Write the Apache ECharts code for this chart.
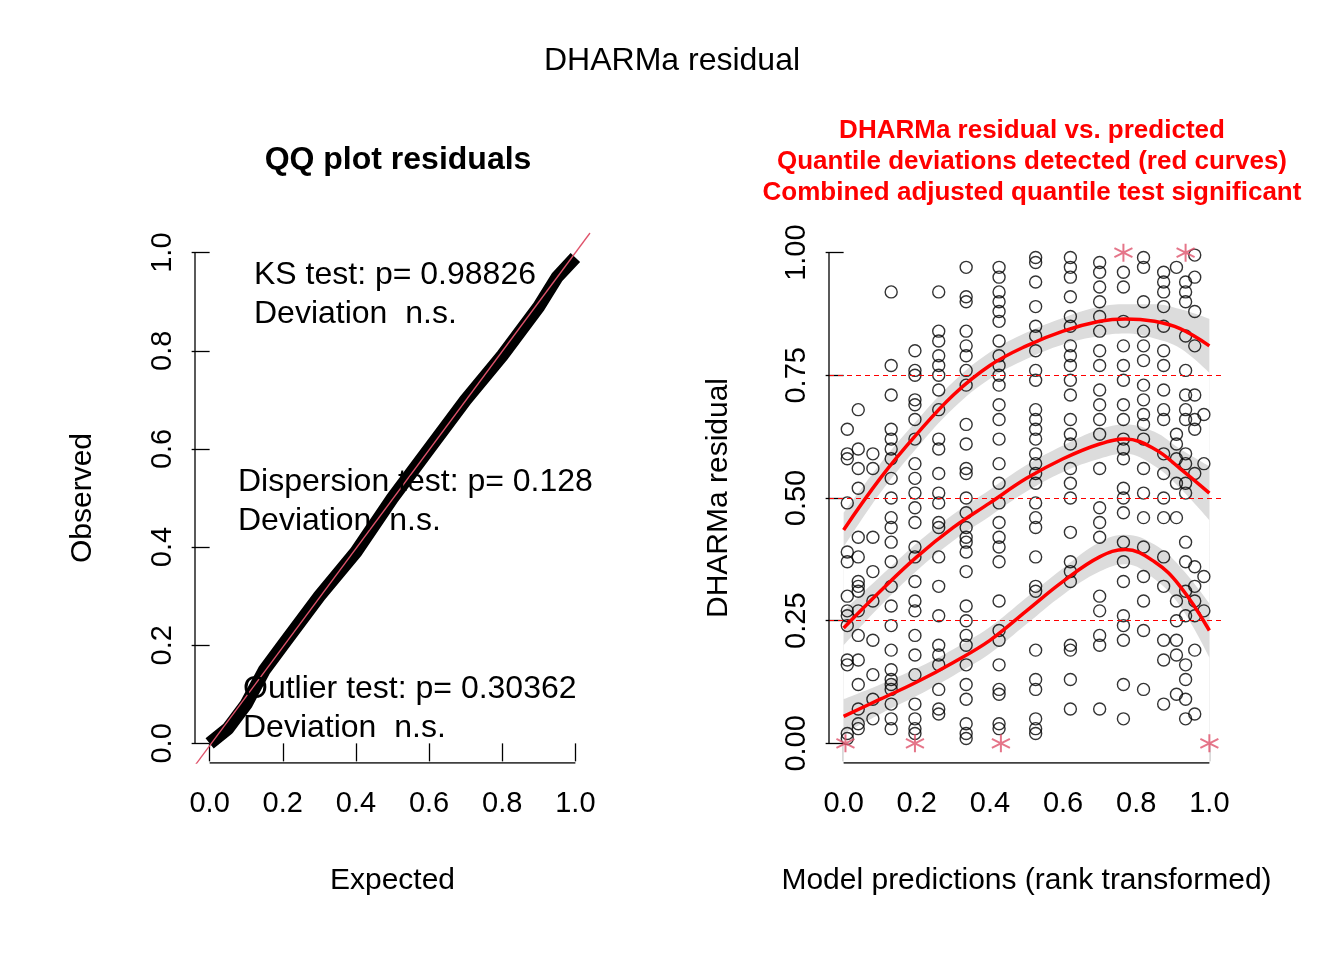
<!DOCTYPE html>
<html><head><meta charset="utf-8">
<script src="https://cdn.jsdelivr.net/npm/echarts@6/dist/echarts.min.js"></script>
<style>html,body{margin:0;background:#fff}#c{width:1344px;height:960px}</style>
</head><body><div id="c"></div>
<script>
// QQ plot: expected vs observed (overplotted points)
const qqExpected = [0, 0.05, 0.1, 0.15, 0.2, 0.3, 0.4, 0.5, 0.6, 0.7, 0.8, 0.9, 0.95, 1.0];
const qqObserved = [0, 0.03, 0.08, 0.15, 0.2, 0.3, 0.39, 0.5, 0.6, 0.7, 0.79, 0.89, 0.95, 0.99];

// residual vs predicted: column x positions and residual values per column
const colX = [0.01, 0.04, 0.08, 0.13, 0.195, 0.26, 0.335, 0.425, 0.525, 0.62, 0.70, 0.765, 0.82, 0.875, 0.91, 0.935, 0.96, 0.985];
const colY = [
  [0.64, 0.58, 0.59, 0.39, 0.37, 0.30, 0.27, 0.24, 0.17, 0.16, 0.02, 0.01, 0.26, 0.49],
  [0.68, 0.60, 0.52, 0.56, 0.32, 0.31, 0.27, 0.22, 0.17, 0.12, 0.07, 0.04, 0.03, 0.42, 0.38, 0.33],
  [0.59, 0.56, 0.42, 0.35, 0.29, 0.21, 0.14, 0.09, 0.05],
  [0.92, 0.77, 0.71, 0.64, 0.62, 0.60, 0.58, 0.54, 0.50, 0.46, 0.44, 0.41, 0.37, 0.32, 0.28, 0.24, 0.19, 0.15, 0.13, 0.12, 0.11, 0.08, 0.05, 0.03],
  [0.80, 0.76, 0.75, 0.70, 0.69, 0.66, 0.62, 0.57, 0.54, 0.51, 0.48, 0.45, 0.40, 0.38, 0.33, 0.29, 0.27, 0.22, 0.18, 0.14, 0.08, 0.05, 0.03, 0.02],
  [0.92, 0.84, 0.82, 0.79, 0.77, 0.75, 0.72, 0.68, 0.62, 0.60, 0.55, 0.51, 0.49, 0.45, 0.44, 0.38, 0.32, 0.26, 0.20, 0.18, 0.16, 0.11, 0.07, 0.06],
  [0.97, 0.91, 0.90, 0.84, 0.81, 0.79, 0.76, 0.73, 0.65, 0.61, 0.56, 0.55, 0.50, 0.47, 0.44, 0.42, 0.41, 0.39, 0.35, 0.28, 0.25, 0.22, 0.20, 0.16, 0.12, 0.09, 0.04, 0.02, 0.01],
  [0.97, 0.95, 0.92, 0.90, 0.88, 0.86, 0.82, 0.79, 0.77, 0.75, 0.73, 0.69, 0.66, 0.62, 0.57, 0.53, 0.49, 0.45, 0.42, 0.40, 0.37, 0.29, 0.23, 0.21, 0.16, 0.11, 0.10, 0.04, 0.03],
  [0.99, 0.98, 0.94, 0.89, 0.85, 0.83, 0.80, 0.76, 0.74, 0.68, 0.66, 0.64, 0.62, 0.59, 0.57, 0.55, 0.53, 0.49, 0.46, 0.44, 0.38, 0.32, 0.31, 0.19, 0.13, 0.11, 0.05, 0.03, 0.02],
  [0.99, 0.97, 0.95, 0.91, 0.87, 0.85, 0.81, 0.79, 0.77, 0.74, 0.71, 0.66, 0.63, 0.61, 0.56, 0.53, 0.50, 0.43, 0.37, 0.35, 0.33, 0.20, 0.19, 0.13, 0.07],
  [0.98, 0.96, 0.93, 0.90, 0.87, 0.84, 0.80, 0.77, 0.72, 0.69, 0.66, 0.63, 0.56, 0.48, 0.45, 0.42, 0.30, 0.27, 0.22, 0.20, 0.07],
  [0.96, 0.93, 0.86, 0.81, 0.77, 0.74, 0.69, 0.66, 0.62, 0.60, 0.58, 0.52, 0.50, 0.47, 0.41, 0.37, 0.33, 0.26, 0.24, 0.21, 0.12, 0.05],
  [0.99, 0.97, 0.90, 0.84, 0.81, 0.78, 0.73, 0.70, 0.67, 0.65, 0.62, 0.56, 0.51, 0.46, 0.40, 0.34, 0.29, 0.23, 0.11],
  [0.96, 0.94, 0.92, 0.89, 0.85, 0.80, 0.77, 0.72, 0.68, 0.66, 0.59, 0.55, 0.50, 0.46, 0.38, 0.32, 0.21, 0.17, 0.08],
  [0.97, 0.63, 0.61, 0.58, 0.53, 0.46, 0.29, 0.25, 0.21, 0.18, 0.10],
  [0.94, 0.92, 0.90, 0.83, 0.76, 0.71, 0.68, 0.66, 0.59, 0.57, 0.53, 0.51, 0.41, 0.37, 0.31, 0.26, 0.16, 0.13, 0.09, 0.05],
  [0.995, 0.95, 0.88, 0.81, 0.71, 0.66, 0.64, 0.55, 0.36, 0.32, 0.29, 0.26, 0.19, 0.06],
  [0.67, 0.57, 0.34, 0.27]
];
const outliers = [[0.005, 0], [0.195, 0], [0.43, 0], [1.0, 0], [0.765, 1], [0.935, 1]];

// quantile regression curves (0.25, 0.5, 0.75)
const qx = [0, 0.1, 0.2, 0.3, 0.4, 0.5, 0.6, 0.7, 0.77, 0.85, 0.92, 1.0];
const q25 = [0.055, 0.09, 0.125, 0.165, 0.21, 0.27, 0.33, 0.38, 0.395, 0.37, 0.32, 0.23];
const q50 = [0.235, 0.31, 0.38, 0.44, 0.49, 0.54, 0.58, 0.61, 0.62, 0.60, 0.56, 0.51];
const q75 = [0.435, 0.54, 0.63, 0.71, 0.77, 0.81, 0.84, 0.86, 0.865, 0.86, 0.845, 0.81];
const qBand = [0.035, 0.03, 0.028, 0.027, 0.027, 0.027, 0.027, 0.03, 0.03, 0.035, 0.04, 0.055];

const ticks = ['0.0', '0.2', '0.4', '0.6', '0.8', '1.0'];
const tickVals = [0, 0.2, 0.4, 0.6, 0.8, 1];
const rTicks = ['0.00', '0.25', '0.50', '0.75', '1.00'];
const rTickVals = [0, 0.25, 0.5, 0.75, 1];

const F = 'Arial, "Liberation Sans", sans-serif';
const LO = -0.04, HI = 1.04;
const chart = echarts.init(document.getElementById('c'));

function axisX(gi, name) {
  return {
    gridIndex: gi, type: 'value', min: LO, max: HI,
    name: name, nameLocation: 'middle', nameGap: 103,
    nameTextStyle: { fontSize: 30, color: '#000', fontFamily: F },
    axisLine: { show: false },
    axisTick: { show: true, length: 18, customValues: tickVals, lineStyle: { color: '#000', width: 1.3 } },
    axisLabel: { fontSize: 29, color: '#000', fontFamily: F, margin: 26, customValues: tickVals,
      formatter: v => ticks[Math.round(v * 5)] },
    splitLine: { show: false }
  };
}
function axisY(gi, vals, labels, name, gap) {
  return {
    gridIndex: gi, type: 'value', min: LO, max: HI,
    name: name, nameLocation: 'middle', nameGap: gap, nameRotate: 90,
    nameTextStyle: { fontSize: 30, color: '#000', fontFamily: F },
    axisLine: { show: false },
    axisTick: { show: true, length: 18, customValues: vals, lineStyle: { color: '#000', width: 1.3 } },
    axisLabel: { fontSize: 29, color: '#000', fontFamily: F, margin: 18, rotate: 90, customValues: vals,
      formatter: v => labels[vals.indexOf(vals.reduce((a, b) => Math.abs(b - v) < Math.abs(a - v) ? b : a))] },
    splitLine: { show: false }
  };
}

const points = [];
colX.forEach((x, i) => colY[i].forEach(y => points.push([x, y])));

const lineS = (ys, color, width) => ({
  type: 'line', xAxisIndex: 1, yAxisIndex: 1, data: qx.map((x, i) => [x, ys[i]]),
  smooth: 0.4, symbol: 'none', lineStyle: { color: color, width: width }, z: 5
});
// band: grey area under upper edge, then white area under lower edge
const bandS = (ys) => [
  { type: 'line', xAxisIndex: 1, yAxisIndex: 1, symbol: 'none', smooth: 0.4, z: 1,
    data: qx.map((x, i) => [x, ys[i] + qBand[i]]), lineStyle: { width: 0 },
    areaStyle: { color: '#dcdcdc', opacity: 1, origin: 'start' } },
  { type: 'line', xAxisIndex: 1, yAxisIndex: 1, symbol: 'none', smooth: 0.4, z: 1,
    data: qx.map((x, i) => [x, ys[i] - qBand[i]]), lineStyle: { width: 0 },
    areaStyle: { color: '#ffffff', opacity: 1, origin: 'start' } }
];
const axisLines = (gi, lastTick) => [
  { type: 'line', xAxisIndex: gi, yAxisIndex: gi, symbol: 'none', data: [[0, LO], [1, LO]],
    lineStyle: { color: '#000', width: 1.3 }, z: 7 },
  { type: 'line', xAxisIndex: gi, yAxisIndex: gi, symbol: 'none', data: [[LO, 0], [LO, lastTick]],
    lineStyle: { color: '#000', width: 1.3 }, z: 7 }
];

chart.setOption({
  animation: false,
  title: [
    { text: 'DHARMa residual', left: 'center', top: 40, textStyle: { fontSize: 32, fontWeight: 'normal', color: '#000', fontFamily: F } },
    { text: 'QQ plot residuals', left: 393, textAlign: 'center', top: 139, textStyle: { fontSize: 32, fontWeight: 'bold', color: '#000', fontFamily: F } },
    { text: 'DHARMa residual vs. predicted\nQuantile deviations detected (red curves)\nCombined adjusted quantile test significant',
      left: 1027, textAlign: 'center', top: 110, textStyle: { fontSize: 26, lineHeight: 31, fontWeight: 'bold', color: '#ff0000', fontFamily: F, align: 'center' } }
  ],
  grid: [
    { left: 195, width: 395, top: 233, height: 530 },
    { left: 829, width: 395, top: 233, height: 530 }
  ],
  xAxis: [axisX(0, 'Expected'), axisX(1, 'Model predictions (rank transformed)')],
  yAxis: [axisY(0, tickVals, ticks, 'Observed', 97), axisY(1, rTickVals, rTicks, 'DHARMa residual', 95)],
  graphic: [
    { type: 'text', left: 254, top: 256, style: { text: 'KS test: p= 0.98826\nDeviation  n.s.', font: '32px ' + F, lineHeight: 39, fill: '#000' }, z: 100 },
    { type: 'text', left: 238, top: 463, style: { text: 'Dispersion test: p= 0.128\nDeviation  n.s.', font: '32px ' + F, lineHeight: 39, fill: '#000' }, z: 100 },
    { type: 'text', left: 243, top: 670, style: { text: 'Outlier test: p= 0.30362\nDeviation  n.s.', font: '32px ' + F, lineHeight: 39, fill: '#000' }, z: 100 }
  ],
  series: [
    ...axisLines(0, 1), ...axisLines(1, 1),
    { type: 'line', xAxisIndex: 0, yAxisIndex: 0, data: qqExpected.map((x, i) => [x, qqObserved[i]]),
      symbol: 'none', lineStyle: { color: '#000', width: 13 }, z: 2 },
    { type: 'line', xAxisIndex: 0, yAxisIndex: 0, data: [[-0.04, -0.045], [1.04, 1.04]],
      symbol: 'none', lineStyle: { color: '#DF536B', width: 1.3 }, z: 3 },
    ...bandS(q75), ...bandS(q50), ...bandS(q25),
    { type: 'line', xAxisIndex: 1, yAxisIndex: 1, data: [], symbol: 'none',
      markLine: { silent: true, symbol: 'none', label: { show: false },
        lineStyle: { color: '#ff0000', type: [5, 4], width: 1 },
        data: [{ yAxis: 0.25 }, { yAxis: 0.5 }, { yAxis: 0.75 }] } },
    { type: 'scatter', xAxisIndex: 1, yAxisIndex: 1, data: points, symbol: 'circle', symbolSize: 12,
      itemStyle: { color: 'transparent', borderColor: '#000', borderWidth: 1.4 }, z: 4 },
    lineS(q25, '#ff0000', 3.5), lineS(q50, '#ff0000', 3.5), lineS(q75, '#ff0000', 3.5),
    { type: 'scatter', xAxisIndex: 1, yAxisIndex: 1, data: outliers, symbolSize: 18,
      symbol: 'path://M0,-10L0,10M-8.7,-5L8.7,5M-8.7,5L8.7,-5',
      itemStyle: { color: 'none', borderColor: '#DF536B', borderWidth: 2 }, z: 6 }
  ]
});
</script></body></html>
